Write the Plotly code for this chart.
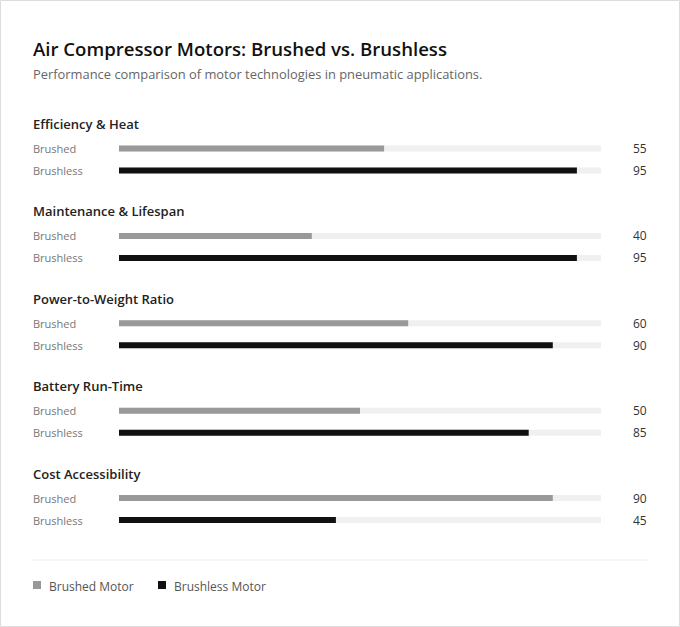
import plotly.graph_objects as go

categories = ["Efficiency & Heat", "Maintenance & Lifespan", "Power-to-Weight Ratio",
              "Battery Run-Time", "Cost Accessibility"]
brushed = [55, 40, 60, 50, 90]
brushless = [95, 95, 90, 85, 45]
series_names = ["Brushed Motor", "Brushless Motor"]
row_labels = ["Brushed", "Brushless"]
colors = ["#999999", "#111111"]
track_color = "#f0f0f0"

W, H = 680, 627
FONT = "Open Sans"

# layout in pixel units
first_group_y = 124
group_step = 87.4
bar_offset = [24.5, 46.5]
bar_h = 6
x0_px, x1_px = 119, 601
PAD = 2  # annotation inner padding compensation

fig = go.Figure()

group_y = [first_group_y + i * group_step for i in range(len(categories))]
ys_b = [g + bar_offset[0] for g in group_y]
ys_l = [g + bar_offset[1] for g in group_y]

# tracks
fig.add_trace(go.Bar(x=[100] * (2 * len(categories)), y=ys_b + ys_l, orientation="h",
                     width=bar_h, marker=dict(color=track_color, line=dict(width=0)),
                     hoverinfo="skip", showlegend=False))
for vals, ys, col, name in [(brushed, ys_b, colors[0], series_names[0]),
                            (brushless, ys_l, colors[1], series_names[1])]:
    fig.add_trace(go.Bar(x=vals, y=ys, orientation="h", width=bar_h,
                         marker=dict(color=col, line=dict(width=0)), name=name,
                         showlegend=False))

lx0 = (33 - PAD) / W
ann = []
ann.append(dict(text="Air Compressor Motors: Brushed vs. Brushless", x=lx0, y=48,
                xref="paper", yref="y", xanchor="left", yanchor="middle", showarrow=False,
                font=dict(family=FONT, size=18.6, color="#111111", weight=600)))
ann.append(dict(text="Performance comparison of motor technologies in pneumatic applications.",
                x=lx0, y=74, xref="paper", yref="y", xanchor="left", yanchor="middle",
                showarrow=False, font=dict(family=FONT, size=12.9, color="#666666")))
for i, cat in enumerate(categories):
    ann.append(dict(text=cat, x=lx0, y=group_y[i], xref="paper", yref="y",
                    xanchor="left", yanchor="middle", showarrow=False,
                    font=dict(family=FONT, size=13, color="#222222", weight=600)))
    for lab, yy, v in [(row_labels[0], ys_b[i], brushed[i]), (row_labels[1], ys_l[i], brushless[i])]:
        ann.append(dict(text=lab, x=lx0, y=yy, xref="paper", yref="y",
                        xanchor="left", yanchor="middle", showarrow=False,
                        font=dict(family=FONT, size=11, color="#777777")))
        ann.append(dict(text=str(v), x=(647 + PAD) / W, y=yy, xref="paper", yref="y",
                        xanchor="right", yanchor="middle", showarrow=False,
                        font=dict(family=FONT, size=12, color="#333333")))

shapes = [
    dict(type="rect", xref="paper", yref="paper", x0=0.5 / W, x1=1 - 0.5 / W, y0=0.5 / H,
         y1=1 - 0.5 / H, line=dict(color="#dddddd", width=1), fillcolor="rgba(0,0,0,0)"),
    dict(type="line", xref="paper", yref="y", x0=33 / W, x1=647 / W, y0=560, y1=560,
         line=dict(color="#eeeeee", width=1)),
]
legend_x = [33, 158]
for lx, col, name in zip(legend_x, colors, series_names):
    shapes.append(dict(type="rect", xref="paper", yref="y", x0=lx / W, x1=(lx + 8) / W,
                       y0=581, y1=589, line=dict(width=0), fillcolor=col))
    ann.append(dict(text=name, x=(lx + 16 - PAD) / W, y=586, xref="paper", yref="y",
                    xanchor="left", yanchor="middle", showarrow=False,
                    font=dict(family=FONT, size=12, color="#555555")))

fig.update_layout(
    width=W, height=H, margin=dict(l=0, r=0, t=0, b=0),
    paper_bgcolor="white", plot_bgcolor="white", barmode="overlay",
    xaxis=dict(domain=[x0_px / W, x1_px / W], range=[0, 100], visible=False, fixedrange=True),
    yaxis=dict(domain=[0, 1], range=[H, 0], visible=False, fixedrange=True),
    annotations=ann, shapes=shapes, showlegend=False,
)
fig.write_html("out.html")
